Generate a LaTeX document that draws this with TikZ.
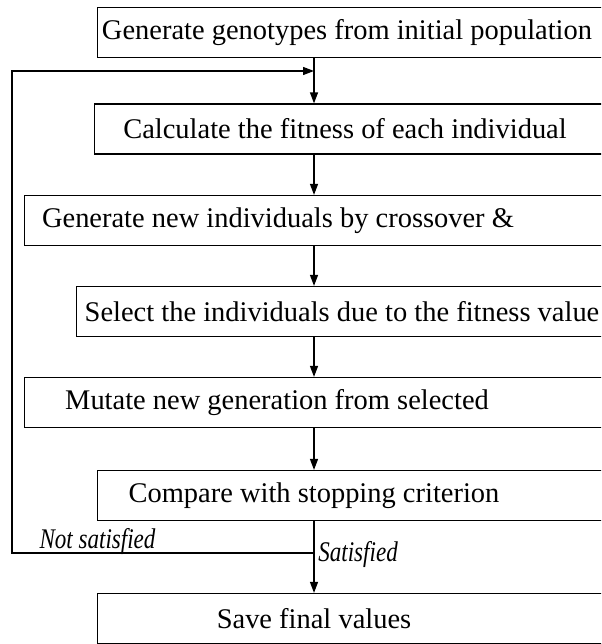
\documentclass[tikz,border=0pt]{standalone}
\usepackage{fontspec}
\setmainfont{Liberation Serif}
\usetikzlibrary{arrows.meta,positioning}

\newcommand{\narrow}[1]{\scalebox{0.81}[1]{#1}}

\begin{document}
\begin{tikzpicture}[x=0.02cm,y=-0.02cm,
  box/.style={draw,line width=0.7pt,anchor=west,minimum height=1.0cm,minimum width=13cm,inner sep=0pt},
  txt/.style={font=\fontsize{16.2}{19}\selectfont,inner sep=0pt},
  cond/.style={font=\fontsize{16.2}{19}\selectfont\itshape,inner sep=0pt},
  flow/.style={line width=0.7pt,-{Triangle[length=2.2mm,width=1.6mm]}}]
  \useasboundingbox (0,0) rectangle (601,644);
  \clip (0,0) rectangle (601,644);
  % boxes (right sides run off the page)
  \node[box] (gen)  at (97,32.5)  {};
  \node[box] (fit)  at (94,129)   {};
  \node[box] (cross) at (24,220.5) {};
  \node[box] (sel)  at (76,311.5) {};
  \node[box] (mut)  at (24,402.5) {};
  \node[box] (cmp)  at (97,495.5) {};
  \node[box] (save) at (97,618.5) {};
  % texts
  \node[txt] (genlbl)   at (347,32.5)  {Generate genotypes from initial population};
  \node[txt] (fitlbl)   at (345,129)   {Calculate the fitness of each individual};
  \node[txt] (crosslbl) at (278,220.5) {Generate new individuals by crossover \&};
  \node[txt] (sellbl)   at (342,311.5) {Select the individuals due to the fitness value};
  \node[txt] (mutlbl)   at (277,402.5) {Mutate new generation from selected};
  \node[txt] (cmplbl)   at (314,495.5) {Compare with stopping criterion};
  \node[txt] (savelbl)  at (314,618.5) {Save final values};
  % main line
  \coordinate (spine) at (314,0);
  \coordinate (merge) at (314,71);
  \coordinate (split) at (314,553);
  \coordinate (edge)  at (12,300);
  \draw[flow] (gen.south -| spine) -- (fit.north -| spine);
  \draw[flow] (fit.south -| spine) -- (cross.north -| spine);
  \draw[flow] (cross.south -| spine) -- (sel.north -| spine);
  \draw[flow] (sel.south -| spine) -- (mut.north -| spine);
  \draw[flow] (mut.south -| spine) -- (cmp.north -| spine);
  \draw[flow] (cmp.south -| spine) -- (save.north -| spine);
  % loop back
  \draw[flow] (split) -| (edge) |- (merge);
  \node[cond,anchor=base] (nosat) at (97.5,548) {\narrow{Not satisfied}};
  \node[cond,anchor=base west] (sat) at (318,561) {\narrow{Satisfied}};
\end{tikzpicture}
\end{document}
